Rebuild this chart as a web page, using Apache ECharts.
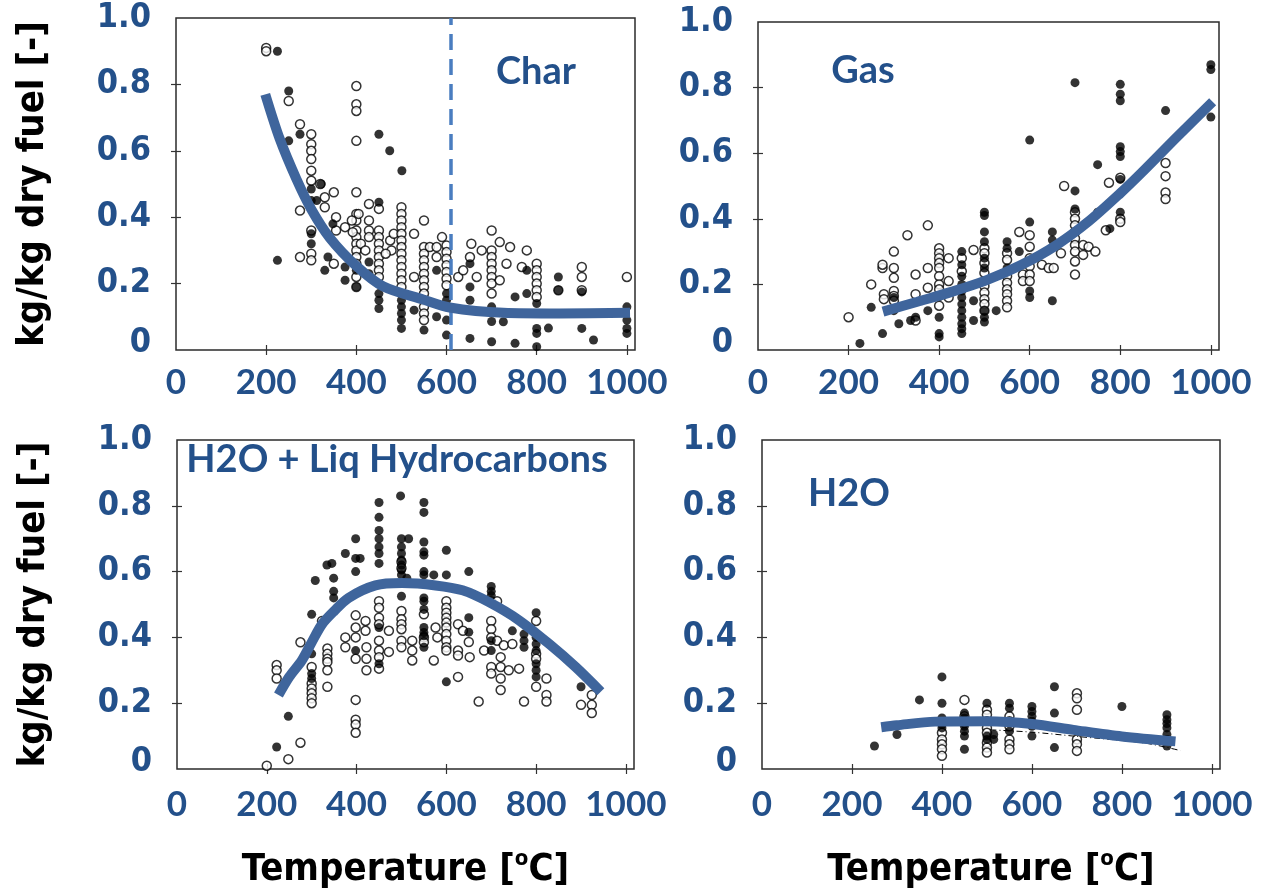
<!DOCTYPE html>
<html>
<head>
<meta charset="utf-8">
<script src="https://cdn.jsdelivr.net/npm/echarts@6/dist/echarts.min.js"></script>
<style>
  html, body { margin: 0; padding: 0; background: #fff; }
  #chart { width: 1268px; height: 895px; }
</style>
</head>
<body>
<div id="chart"></div>
<script>
// axis ticks / labels
const xTicks = [0, 200, 400, 600, 800, 1000]
const yTicks = [0, 0.2, 0.4, 0.6, 0.8, 1.0]
const X_MAX = 1018
const charSplitT = 610 // dashed line in the Char panel

// panel titles
const panelTitles = ['Char', 'Gas', 'H2O + Liq Hydrocarbons', 'H2O']

// ---- Char ----
const charOpen = [
  [200,0.91],[200,0.90],[250,0.75],[275,0.68],[275,0.42],[275,0.28],
  [300,0.65],[300,0.62],[300,0.60],[300,0.575],[300,0.54],[300,0.51],[300,0.36],[300,0.29],[300,0.27],
  [320,0.50],[330,0.46],[330,0.43],[350,0.475],[355,0.40],[355,0.36],[350,0.26],[375,0.37],
  [400,0.795],[400,0.74],[400,0.72],[400,0.63],[400,0.475],[400,0.41],[400,0.39],[400,0.36],[400,0.34],
  [400,0.32],[400,0.30],[400,0.28],[400,0.26],[400,0.22],[400,0.19],
  [390,0.39],[392,0.355],[405,0.41],[410,0.32],[428,0.44],[428,0.39],[428,0.36],[428,0.34],[420,0.30],
  [450,0.425],[450,0.36],[450,0.34],[450,0.32],[450,0.30],[450,0.28],[450,0.26],[450,0.24],[450,0.22],
  [475,0.33],[478,0.30],[465,0.29],[483,0.35],
  [500,0.43],[500,0.41],[500,0.39],[500,0.37],[500,0.35],[500,0.33],[500,0.31],[500,0.29],[500,0.27],
  [500,0.25],[500,0.23],[500,0.21],[500,0.19],
  [528,0.35],[528,0.22],[550,0.39],
  [550,0.31],[550,0.29],[550,0.27],[550,0.25],[550,0.23],[550,0.21],[550,0.19],[550,0.17],[550,0.15],
  [550,0.13],[550,0.11],[550,0.09],
  [563,0.31],[578,0.31],[578,0.28],[590,0.34],
  [600,0.315],[600,0.295],[600,0.275],[600,0.255],[600,0.235],[600,0.215],[600,0.195],
  [626,0.22],[637,0.24],[652,0.28],[655,0.32],[678,0.30],[667,0.22],
  [700,0.36],[700,0.30],[700,0.28],[700,0.26],[700,0.24],[700,0.22],[700,0.20],[700,0.17],
  [718,0.325],[733,0.26],[718,0.21],[741,0.31],[778,0.30],[767,0.25],
  [800,0.26],[800,0.24],[800,0.22],[800,0.20],[800,0.18],[800,0.16],
  [848,0.18],[900,0.25],[900,0.22],[900,0.18],[1000,0.22]
]
const charFilled = [
  [225,0.90],[250,0.78],[250,0.63],[225,0.27],[275,0.65],[300,0.485],[300,0.45],[300,0.35],[300,0.32],
  [322,0.50],[312,0.45],[348,0.38],[337,0.28],[330,0.24],[375,0.25],[375,0.21],[400,0.24],[400,0.19],
  [428,0.265],[428,0.23],[450,0.445],[450,0.65],[474,0.60],[501,0.54],[450,0.17],[450,0.15],[450,0.125],
  [500,0.17],[500,0.15],[500,0.13],[500,0.11],[500,0.09],[500,0.065],[528,0.12],[550,0.06],[578,0.24],
  [578,0.10],[600,0.17],[600,0.15],[600,0.13],[600,0.09],[600,0.045],[652,0.26],[652,0.19],[652,0.15],
  [652,0.035],[700,0.13],[700,0.086],[700,0.025],[726,0.085],[752,0.16],[752,0.02],[778,0.24],[778,0.17],
  [800,0.14],[800,0.065],[800,0.05],[800,0.01],[826,0.066],[848,0.22],[848,0.18],[900,0.175],[900,0.065],
  [926,0.03],[1000,0.13],[1000,0.09],[1000,0.065],[1000,0.05]
]
const charFit = [
  [198,0.77],[230,0.636],[267,0.515],[300,0.424],[341,0.338],[400,0.253],[459,0.192],[548,0.152],
  [607,0.128],[726,0.112],[850,0.11],[1007,0.112]
]

// ---- Gas ----
const gasOpen = [
  [200,0.10],[250,0.20],[275,0.25],[275,0.26],[278,0.17],[278,0.155],[300,0.30],[300,0.25],[300,0.22],
  [300,0.18],[300,0.165],[300,0.15],[330,0.35],[348,0.09],[348,0.17],[348,0.23],[375,0.38],[375,0.25],[375,0.19],
  [400,0.31],[400,0.295],[400,0.28],[400,0.265],[400,0.25],[400,0.225],[400,0.20],[400,0.185],[400,0.165],[400,0.135],
  [421,0.28],[421,0.21],[421,0.16],[450,0.28],[450,0.24],[476,0.305],
  [500,0.31],[500,0.295],[500,0.265],[500,0.235],[500,0.195],[500,0.175],[500,0.155],[500,0.14],[500,0.12],
  [550,0.295],[550,0.275],[550,0.225],[550,0.205],[550,0.185],[550,0.17],[550,0.15],[550,0.13],
  [577,0.36],[585,0.23],[585,0.21],
  [600,0.35],[600,0.315],[600,0.28],[600,0.255],[600,0.23],[600,0.21],
  [627,0.26],[642,0.25],[653,0.25],[669,0.295],[676,0.50],
  [700,0.42],[700,0.40],[700,0.38],[700,0.36],[700,0.34],[700,0.32],[700,0.30],[700,0.27],[700,0.23],
  [718,0.32],[718,0.29],[730,0.315],[745,0.30],[768,0.365],[775,0.51],[800,0.525],[800,0.40],[800,0.39],
  [900,0.57],[900,0.53],[900,0.48],[900,0.46]
]
const gasFilled = [
  [225,0.02],[250,0.13],[275,0.05],[300,0.16],[300,0.12],[311,0.08],[337,0.09],[348,0.10],[375,0.12],
  [400,0.10],[400,0.04],[400,0.05],
  [450,0.30],[450,0.26],[450,0.225],[450,0.20],[450,0.18],[450,0.16],[450,0.14],[450,0.12],[450,0.10],
  [450,0.08],[450,0.065],[450,0.05],[476,0.15],[476,0.09],
  [500,0.42],[500,0.41],[500,0.36],[500,0.33],[500,0.28],[500,0.25],[500,0.21],[500,0.12],[500,0.10],[500,0.085],
  [526,0.12],[550,0.33],[550,0.31],[550,0.25],[577,0.30],[600,0.64],[600,0.39],[600,0.18],[600,0.16],
  [650,0.36],[650,0.335],[650,0.15],[700,0.815],[700,0.485],[700,0.43],[750,0.565],[750,0.42],[777,0.37],
  [800,0.81],[800,0.78],[800,0.76],[800,0.62],[800,0.605],[800,0.59],[800,0.52],[800,0.42],
  [900,0.73],[1000,0.87],[1000,0.855],[1000,0.71]
]
const gasFit = [
  [276,0.117],[352,0.147],[429,0.178],[505,0.213],[581,0.259],[657,0.318],[730,0.392],[800,0.478],
  [848,0.542],[924,0.648],[1004,0.757]
]

// ---- H2O + liquid hydrocarbons ----
const liqOpen = [
  [200,0.01],[248,0.03],[275,0.08],[222,0.316],[222,0.30],[222,0.275],[275,0.385],
  [300,0.31],[300,0.26],[300,0.245],[300,0.23],[300,0.215],[300,0.20],
  [323,0.45],[335,0.366],[335,0.35],[335,0.335],[335,0.325],[335,0.30],[335,0.25],
  [375,0.40],[375,0.37],[398,0.467],[398,0.43],[398,0.40],[398,0.335],[398,0.21],[398,0.15],[398,0.135],[398,0.11],
  [420,0.45],[420,0.42],[422,0.37],[422,0.335],[422,0.30],
  [450,0.51],[450,0.49],[450,0.46],[450,0.44],[450,0.39],[450,0.36],[450,0.34],[450,0.305],
  [472,0.42],[472,0.356],[500,0.63],[500,0.61],[500,0.48],[500,0.455],[500,0.44],[500,0.425],[500,0.39],[500,0.37],
  [524,0.39],[524,0.36],[524,0.33],[550,0.47],[550,0.40],[550,0.385],[576,0.43],[572,0.33],[580,0.40],
  [600,0.51],[600,0.49],[600,0.475],[600,0.46],[600,0.445],[600,0.43],[600,0.41],[600,0.39],[600,0.37],[600,0.36],
  [626,0.44],[626,0.36],[626,0.345],[626,0.28],[637,0.42],[650,0.386],[652,0.34],[672,0.205],[684,0.36],
  [700,0.51],[700,0.45],[700,0.425],[700,0.40],[700,0.31],[700,0.29],
  [713,0.51],[713,0.39],[721,0.34],[721,0.31],[721,0.275],[721,0.24],[728,0.376],[739,0.30],[747,0.38],
  [762,0.305],[773,0.205],[800,0.45],[800,0.35],[800,0.335],[800,0.25],[823,0.275],[823,0.225],[823,0.205],
  [900,0.195],[924,0.225],[924,0.195],[924,0.17]
]
const liqFilled = [
  [222,0.067],[248,0.16],[300,0.47],[300,0.35],[300,0.29],[300,0.275],[308,0.573],[334,0.62],[345,0.625],
  [349,0.58],[349,0.54],[349,0.52],[375,0.655],[398,0.70],[398,0.64],[398,0.60],[408,0.64],[398,0.36],
  [450,0.81],[450,0.765],[450,0.725],[450,0.70],[450,0.675],[450,0.655],[450,0.625],[450,0.43],[450,0.32],
  [498,0.83],[500,0.70],[500,0.675],[500,0.655],[500,0.635],[500,0.62],[500,0.605],[500,0.59],[500,0.525],
  [516,0.70],[512,0.58],
  [550,0.81],[550,0.78],[550,0.69],[550,0.66],[550,0.65],[550,0.60],[550,0.59],[550,0.52],[550,0.51],
  [550,0.485],[550,0.43],[550,0.415],[550,0.405],[550,0.37],
  [572,0.59],[600,0.665],[600,0.59],[600,0.265],[650,0.60],[650,0.46],[650,0.416],
  [700,0.555],[700,0.54],[700,0.527],[700,0.39],[700,0.36],[747,0.42],[773,0.41],[773,0.39],[773,0.37],
  [800,0.475],[800,0.40],[800,0.38],[800,0.36],[800,0.32],[800,0.30],[800,0.28],[900,0.25]
]
const liqFit = [
  [226,0.225],[250,0.28],[278,0.33],[300,0.385],[323,0.44],[350,0.48],[382,0.52],[442,0.558],[501,0.565],
  [576,0.558],[636,0.543],[695,0.507],[762,0.452],[829,0.38],[888,0.31],[944,0.235]
]

// ---- H2O ----
const h2oOpen = [
  [400,0.11],[400,0.09],[400,0.075],[400,0.06],[400,0.04],[450,0.21],[450,0.16],[450,0.14],
  [500,0.18],[500,0.165],[500,0.145],[500,0.125],[500,0.11],[500,0.08],[500,0.065],[500,0.05],
  [550,0.16],[550,0.145],[550,0.13],[550,0.09],[550,0.075],[550,0.06],
  [700,0.23],[700,0.215],[700,0.18],[700,0.09],[700,0.075],[700,0.055]
]
const h2oFilled = [
  [250,0.07],[300,0.105],[350,0.21],[400,0.28],[400,0.20],[400,0.155],[400,0.135],[400,0.125],
  [450,0.17],[450,0.155],[450,0.145],[450,0.13],[450,0.115],[450,0.10],[450,0.06],
  [500,0.20],[500,0.10],[500,0.09],[515,0.09],[515,0.105],[550,0.20],[550,0.185],[550,0.115],
  [600,0.19],[600,0.175],[600,0.16],[600,0.145],[600,0.13],[600,0.10],[650,0.25],[650,0.17],[650,0.065],
  [800,0.19],[900,0.165],[900,0.15],[900,0.138],[900,0.125],[900,0.105],[900,0.09],[900,0.07]
]
const h2oFit = [[265,0.127],[300,0.133],[385,0.144],[500,0.145],[600,0.137],[692,0.119],[800,0.099],[919,0.084]]
const h2oFitThin = [[508,0.119],[600,0.112],[700,0.099],[850,0.079],[930,0.056]]

const TEXT = '#23508A'
const FIT = '#3F659C'
const grids = [
  { left: 176, top: 18, width: 459, height: 332 },
  { left: 758, top: 22, width: 461, height: 328 },
  { left: 177, top: 440, width: 457, height: 329 },
  { left: 762, top: 440, width: 458, height: 329 }
]
const titlePos = [[536, 72], [863, 71], [397, 460], [849, 494]]

const myChart = echarts.init(document.getElementById('chart'))

const tickStyle = { inside: true, length: 5, lineStyle: { color: '#333', width: 1.2 } }
const nameFont = { fontFamily: '"DejaVu Sans Condensed", "DejaVu Sans"', fontWeight: 'bold', fontSize: 38, color: '#000' }
const yLabelFont = { fontFamily: '"DejaVu Sans Condensed", "DejaVu Sans"', fontWeight: 'bold', fontSize: 34, color: TEXT }

const xAxis = [], yAxis = []
grids.forEach((g, i) => {
  xAxis.push({
    gridIndex: i, type: 'value', min: 0, max: X_MAX, position: 'bottom',
    axisLine: { show: false }, splitLine: { show: false },
    axisTick: { ...tickStyle, customValues: xTicks.slice(1) },
    axisLabel: { customValues: xTicks, margin: i < 2 ? 15 : 18, formatter: v => String(v),
      fontFamily: 'Lato', fontWeight: 'bold', fontSize: 35, color: TEXT },
    name: i >= 2 ? 'Temperature [{sup|o}C]' : '',
    nameLocation: 'middle', nameGap: 79,
    nameTextStyle: { ...nameFont, lineHeight: 44,
      rich: { sup: { ...nameFont, fontSize: 22, lineHeight: 22, verticalAlign: 'top' } } }
  })
  yAxis.push({
    gridIndex: i, type: 'value', min: 0, max: 1, position: 'left',
    axisLine: { show: false }, splitLine: { show: false },
    axisTick: { ...tickStyle, customValues: yTicks.slice(1, 5) },
    axisLabel: {
      customValues: yTicks, margin: 25, ...yLabelFont,
      formatter: v => v === 0 ? '{z|0}' : v.toFixed(1),
      rich: { z: { ...yLabelFont, padding: [0, 0, 14, 0] } }
    },
    name: i % 2 === 0 ? 'kg/kg dry fuel [-]' : '',
    nameLocation: 'middle', nameRotate: 90, nameGap: 124,
    nameTextStyle: nameFont
  })
})
// frame ticks on top and right edges
grids.forEach((g, i) => {
  xAxis.push({
    gridIndex: i, type: 'value', min: 0, max: X_MAX, position: 'top',
    axisLine: { show: false }, splitLine: { show: false }, axisLabel: { show: false },
    axisTick: { ...tickStyle, customValues: xTicks.slice(1) }
  })
  yAxis.push({
    gridIndex: i, type: 'value', min: 0, max: 1, position: 'right',
    axisLine: { show: false }, splitLine: { show: false }, axisLabel: { show: false },
    axisTick: { ...tickStyle, customValues: yTicks.slice(1, 5) }
  })
})

const panels = [
  [charOpen, charFilled, charFit],
  [gasOpen, gasFilled, gasFit],
  [liqOpen, liqFilled, liqFit],
  [h2oOpen, h2oFilled, h2oFit]
]
const series = []
panels.forEach(([open, filled, fit], i) => {
  series.push({
    type: 'scatter', xAxisIndex: i, yAxisIndex: i, data: open, symbolSize: 9, z: 2,
    itemStyle: { color: '#fff', borderColor: '#000', borderWidth: 1.5 }
  })
  series.push({
    type: 'scatter', xAxisIndex: i, yAxisIndex: i, data: filled, symbolSize: 9, z: 3,
    itemStyle: { color: '#000' }
  })
  if (i === 3) {
    series.push({
      type: 'line', xAxisIndex: i, yAxisIndex: i, data: h2oFitThin, showSymbol: false, z: 4, smooth: 0.3,
      lineStyle: { color: '#000', width: 1, type: [6, 3, 1, 3] }
    })
  }
  const line = {
    type: 'line', xAxisIndex: i, yAxisIndex: i, data: fit, showSymbol: false, smooth: 0.3, z: 5,
    lineStyle: { color: FIT, width: 10, cap: 'butt' }
  }
  if (i === 0) {
    line.markLine = {
      silent: true, symbol: 'none', label: { show: false },
      lineStyle: { color: '#4A7DC0', width: 3.5, type: [16, 9] },
      data: [{ xAxis: charSplitT }]
    }
  }
  series.push(line)
})

const option = {
  backgroundColor: '#fff',
  animation: false,
  grid: grids.map(g => ({ ...g, show: true, borderColor: '#2b2b2b', borderWidth: 1.5, backgroundColor: '#fff' })),
  xAxis,
  yAxis,
  graphic: panelTitles.map((t, i) => ({
    type: 'text', x: titlePos[i][0], y: titlePos[i][1], z: 10,
    style: { text: t, fill: TEXT, font: 'bold 38px Lato', textAlign: 'center', textVerticalAlign: 'middle' }
  })),
  series
}
myChart.setOption(option)
window.addEventListener('resize', () => myChart.resize())
</script>
</body>
</html>
